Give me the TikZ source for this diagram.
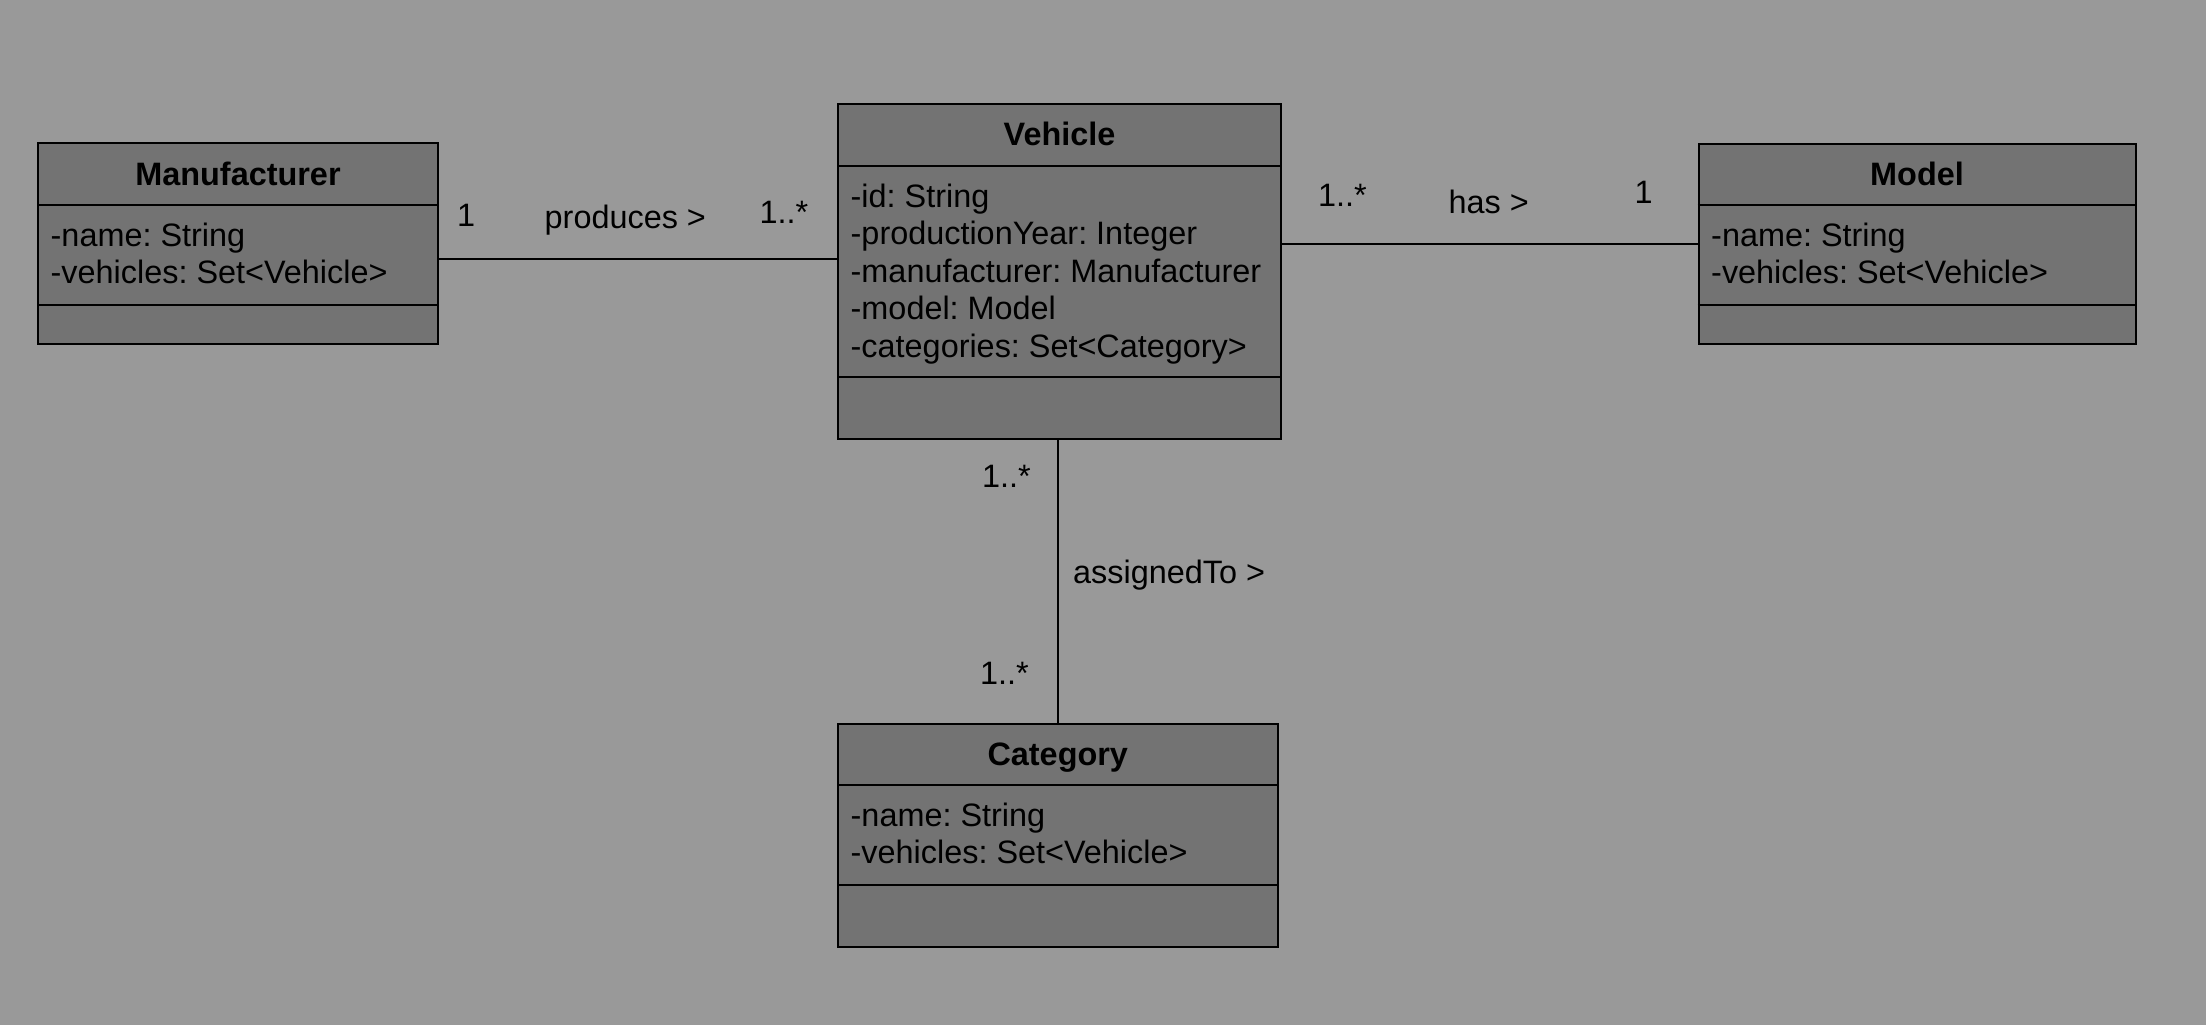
\documentclass[tikz,border=0pt]{standalone}
\usepackage{fontspec}
\setmainfont{Liberation Sans}
\frenchspacing
\definecolor{bgcol}{RGB}{153,153,153}
\definecolor{boxfill}{RGB}{115,115,115}
\begin{document}
\begin{tikzpicture}[x=1pt,y=-1pt,
  umlbox/.style={draw=black, fill=boxfill, line width=2pt, inner sep=0pt, anchor=north west},
  sepline/.style={draw=black, line width=2pt},
  umltitle/.style={font=\fontsize{32.4}{37}\selectfont\bfseries, anchor=base, inner sep=0pt},
  umlattr/.style={font=\fontsize{32.4}{37}\selectfont, anchor=base west, inner sep=0pt},
  mult/.style={font=\fontsize{32.4}{37}\selectfont, anchor=base west, inner sep=0pt},
  assoc/.style={draw=black, line width=2pt}]
\fill[bgcol] (0,0) rectangle (2206,1025);
\useasboundingbox (0,0) rectangle (2206,1025);

% boxes
\node[umlbox, minimum width=400pt, minimum height=201pt] (manu) at (37,142) {};
\node[umlbox, minimum width=443pt, minimum height=335pt] (veh) at (837,103) {};
\node[umlbox, minimum width=437pt, minimum height=200pt] (model) at (1697.5,142.7) {};
\node[umlbox, minimum width=439.5pt, minimum height=223pt] (cat) at (837,723) {};

% compartments
\draw[sepline] (manu.north west) ++(0,63) -- ++(400,0);
\draw[sepline] (manu.north west) ++(0,163) -- ++(400,0);
\draw[sepline] (veh.north west) ++(0,63) -- ++(443,0);
\draw[sepline] (veh.north west) ++(0,274) -- ++(443,0);
\draw[sepline] (model.north west) ++(0,62.6) -- ++(437,0);
\draw[sepline] (model.north west) ++(0,162.3) -- ++(437,0);
\draw[sepline] (cat.north west) ++(0,62) -- ++(439.5,0);
\draw[sepline] (cat.north west) ++(0,162.4) -- ++(439.5,0);

% titles
\path (manu.north) ++(0,43) node[umltitle] (manuT) {Manufacturer};
\path (veh.north) ++(0,42.3) node[umltitle] (vehT) {Vehicle};
\path (model.north) ++(0,42.8) node[umltitle] (modelT) {Model};
\path (cat.north) ++(0,42.7) node[umltitle] (catT) {Category};

% attributes
\path (manu.north west) ++(13.5,104.7) node[umlattr] (manuA1) {-name: String};
\path (manu.north west) ++(13.5,141.5) node[umlattr] (manuA2) {-vehicles: Set<Vehicle>};

\path (veh.north west) ++(13.5,104.3) node[umlattr] (vehA1) {-id: String};
\path (veh.north west) ++(13.5,141.8) node[umlattr] (vehA2) {-productionYear: Integer};
\path (veh.north west) ++(13.5,179.3) node[umlattr] (vehA3) {-manufacturer: Manufacturer};
\path (veh.north west) ++(13.5,216.8) node[umlattr] (vehA4) {-model: Model};
\path (veh.north west) ++(13.5,254.3) node[umlattr] (vehA5) {-categories: Set<Category>};

\path (model.north west) ++(13.5,104) node[umlattr] (modelA1) {-name: String};
\path (model.north west) ++(13.5,140.8) node[umlattr] (modelA2) {-vehicles: Set<Vehicle>};

\path (cat.north west) ++(13.5,103.2) node[umlattr] (catA1) {-name: String};
\path (cat.north west) ++(13.5,140.4) node[umlattr] (catA2) {-vehicles: Set<Vehicle>};

% associations
\path (manu.east) ++(0,15.2) coordinate (mvA);
\draw[assoc] (mvA) -- (mvA -| veh.west);
\draw[assoc] (model.west -| veh.east) -- (model.west);
\draw[assoc] (veh.south -| cat.north) -- (cat.north);

% labels
\node[mult] (m1) at (457,226.7) {1};
\node[mult] (m1name) at (544.5,228.3) {produces >};
\node[mult] (m1b) at (759.5,223.3) {1..*};

\node[mult] (m2) at (1318,206.7) {1..*};
\node[mult] (m2name) at (1448.5,213.3) {has >};
\node[mult] (m2b) at (1634.5,203.3) {1};

\node[mult] (m3) at (982,487.5) {1..*};
\node[mult] (m3name) at (1073,583.8) {assignedTo >};
\node[mult] (m3b) at (980,684.2) {1..*};
\end{tikzpicture}
\end{document}
